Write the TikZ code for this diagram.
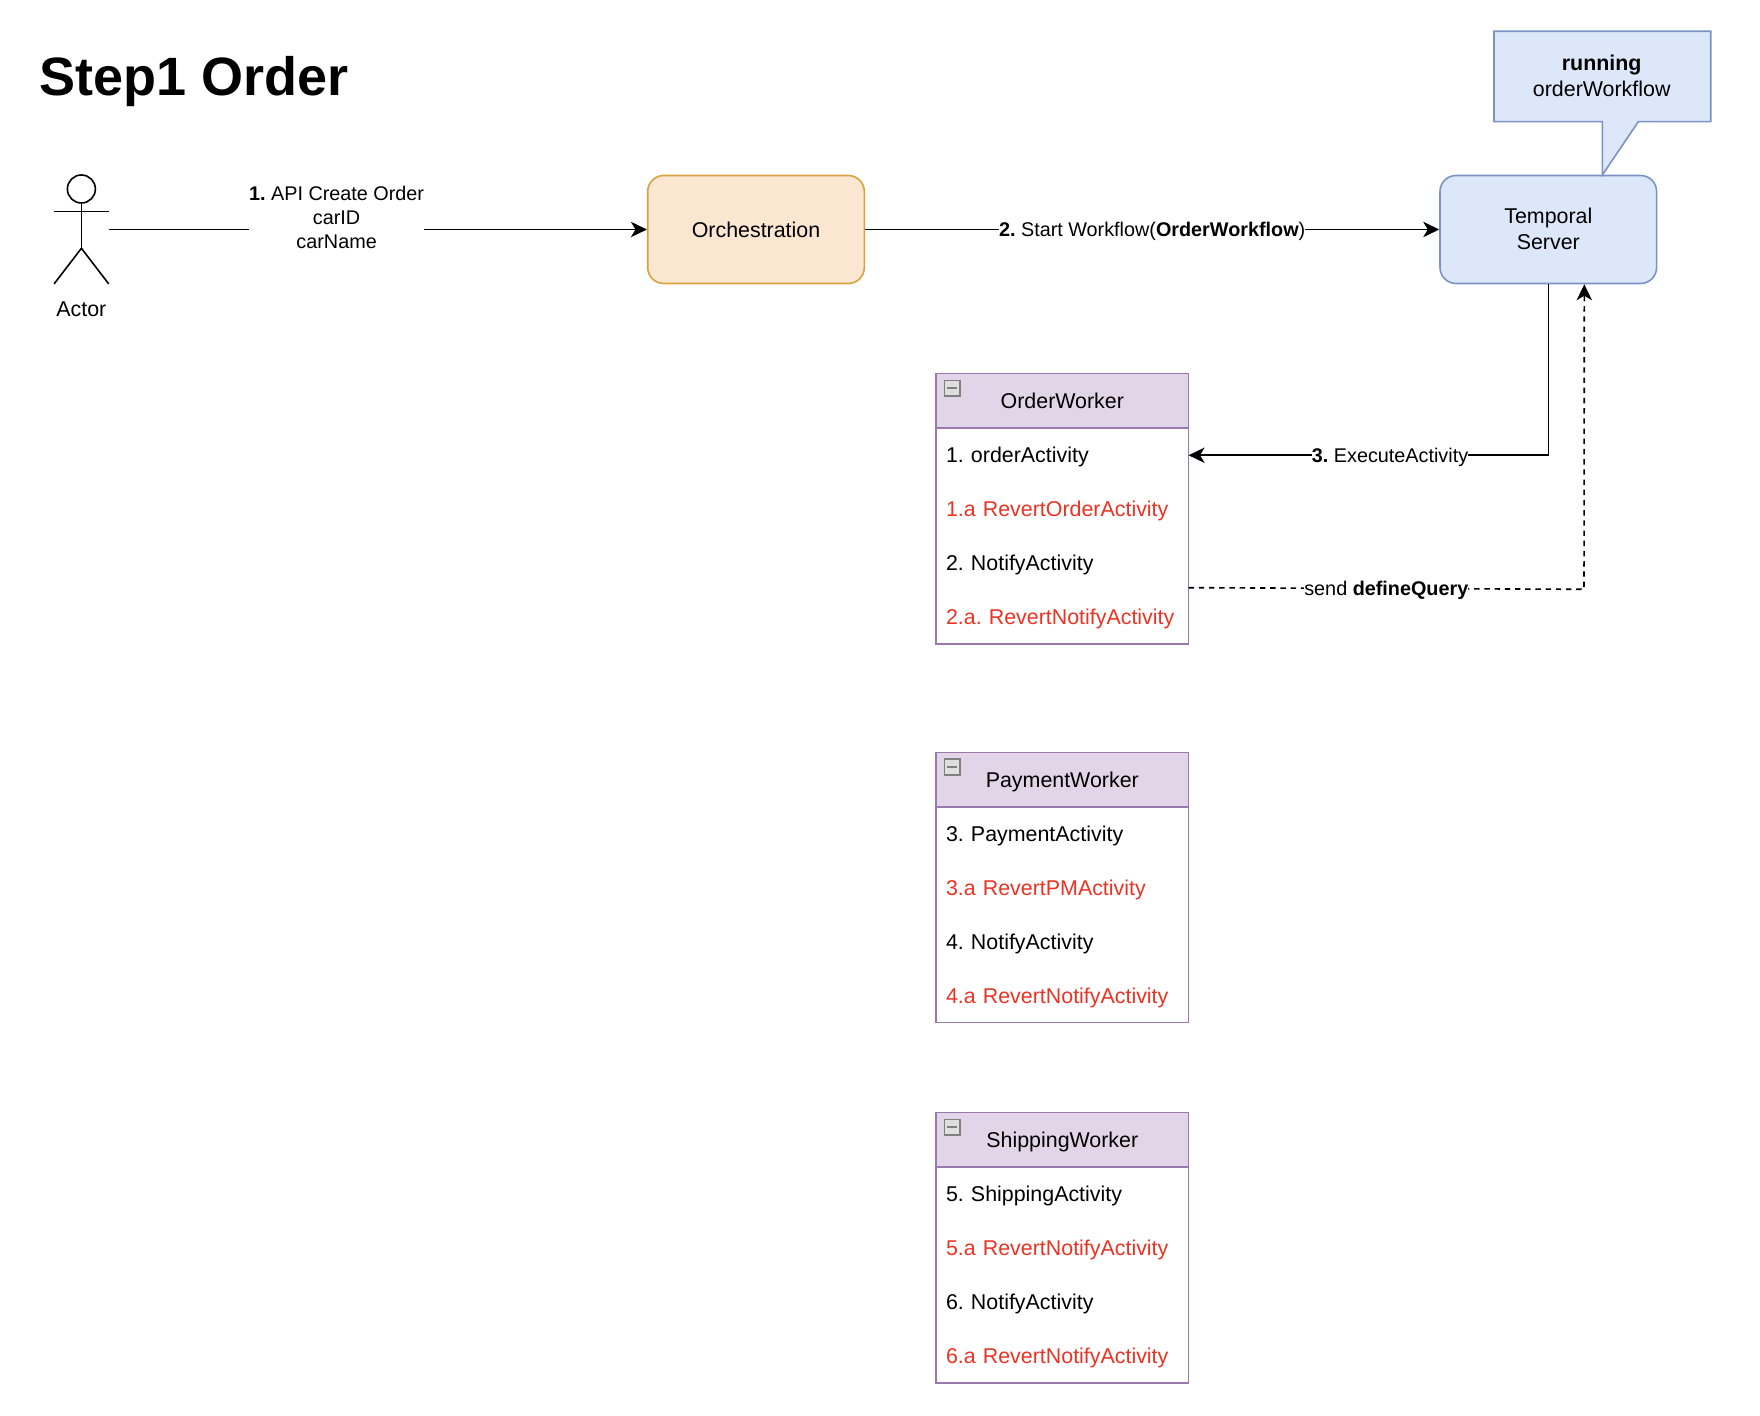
\documentclass[tikz,border=0pt]{standalone}
\usepackage{fontspec}
\setmainfont{Liberation Sans}
\usetikzlibrary{arrows.meta,positioning}
\frenchspacing

\definecolor{orchfill}{HTML}{FAE6D1}
\definecolor{orchline}{HTML}{D9A23F}
\definecolor{serverfill}{HTML}{DCE8FA}
\definecolor{serverline}{HTML}{7A93C2}
\definecolor{workerfill}{HTML}{E1D5E7}
\definecolor{workerline}{HTML}{9A7AAE}
\definecolor{revertred}{HTML}{EA3323}

\tikzset{
	base/.style={font=\fontsize{10.7}{13}\selectfont},
	flowarrow/.style={line width=0.8pt,-{Stealth[length=8pt,width=7.7pt,inset=2.3pt]}},
	flowlabel/.style={font=\fontsize{9.9}{12}\selectfont,fill=white,inner sep=0pt,align=center},
	onelinelabel/.style={flowlabel,text height=7pt,text depth=2pt,yshift=-1pt},
	orchbox/.style={base,draw=orchline,fill=orchfill,line width=0.8pt,rounded corners=8pt,minimum width=108.3pt,minimum height=54pt},
	serverbox/.style={base,draw=serverline,fill=serverfill,line width=0.8pt,rounded corners=8pt,minimum width=108.3pt,minimum height=54pt,align=center,text depth=0.8pt},
	workerhead/.style={base,draw=workerline,fill=workerfill,line width=0.8pt,outer sep=0pt,minimum width=126.3pt,minimum height=27.3pt,text height=8.5pt,text depth=0.5pt},
	workerrow/.style={base,anchor=north west,outer sep=0pt,minimum height=26.95pt,text width=116.3pt,inner xsep=5pt,inner ysep=0pt,align=left,text height=8.2pt,text depth=0.8pt},
	workerbody/.style={draw=workerline,line width=0.8pt,outer sep=0pt,minimum width=126.3pt,minimum height=107.8pt,inner sep=0pt},
	minusbox/.style={draw=gray,fill=gray!25,line width=0.8pt,minimum size=7.8pt,inner sep=0pt,
		path picture={\draw[line width=1.2pt] ([xshift=1.5pt]path picture bounding box.west) -- ([xshift=-1.5pt]path picture bounding box.east);}},
	stickman/.style={line width=0.8pt}
}

\begin{document}
\begin{tikzpicture}[x=0.5pt,y=-0.5pt]
	\useasboundingbox (0,0) rectangle (1760,1416);

	% Title
	\node[anchor=base west,inner sep=0pt,font=\fontsize{27}{32}\selectfont\bfseries] (title) at (39,96) {Step1 Order};

	% Actor
	\node[minimum width=26.9pt,minimum height=54pt,inner sep=0pt] (actor) at (81.4,229.5) {};
	\draw[stickman] (81.4,189) circle (7pt);
	\draw[stickman] (81.4,203) -- (81.4,248.3);
	\draw[stickman] (actor.west |- 0,211.7) -- (actor.east |- 0,211.7);
	\draw[stickman] (actor.south west) -- (81.4,248.3) -- (actor.south east);
	\node[base,below=8.5pt of actor,inner sep=0pt] (actorlabel) {Actor};

	% Orchestration and server
	\node[orchbox] (orchestration) at (756,229.5) {Orchestration};
	\node[serverbox] (temporal) at (1548.3,229.5) {Temporal\\Server};

	% Callout
	\draw[draw=serverline,fill=serverfill,line width=0.8pt] (1494,31.3) -- (1710.7,31.3) -- (1710.7,121.7) -- (1638.3,121.7) -- (1602.3,175) -- (1602.3,121.7) -- (1494,121.7) -- cycle;
	\node[base,align=center,inner sep=0pt] (callout) at (1601.7,76) {\textbf{running}\\orderWorkflow};

	% OrderWorker
	\node[workerhead] (orderhead) at (1062.3,401) {OrderWorker};
	\node[workerbody,below=0pt of orderhead] (orderbody) {};
	\node[minusbox] (ordertoggle) at (952.2,388.2) {};
	\node[workerrow] (orderrow1) at (orderbody.north west) {1. orderActivity};
	\node[workerrow,below=0pt of orderrow1,text=revertred] (orderrow2) {1.a RevertOrderActivity};
	\node[workerrow,below=0pt of orderrow2] (orderrow3) {2. NotifyActivity};
	\node[workerrow,below=0pt of orderrow3,text=revertred] (orderrow4) {2.a. RevertNotifyActivity};

	% PaymentWorker
	\node[workerhead] (paymenthead) at (1062.3,779.7) {PaymentWorker};
	\node[workerbody,below=0pt of paymenthead] (paymentbody) {};
	\node[minusbox] (paymenttoggle) at (952.2,766.9) {};
	\node[workerrow] (paymentrow1) at (paymentbody.north west) {3. PaymentActivity};
	\node[workerrow,below=0pt of paymentrow1,text=revertred] (paymentrow2) {3.a RevertPMActivity};
	\node[workerrow,below=0pt of paymentrow2] (paymentrow3) {4. NotifyActivity};
	\node[workerrow,below=0pt of paymentrow3,text=revertred] (paymentrow4) {4.a RevertNotifyActivity};

	% ShippingWorker
	\node[workerhead] (shippinghead) at (1062.3,1139.9) {ShippingWorker};
	\node[workerbody,below=0pt of shippinghead] (shippingbody) {};
	\node[minusbox] (shippingtoggle) at (952.2,1127.1) {};
	\node[workerrow] (shippingrow1) at (shippingbody.north west) {5. ShippingActivity};
	\node[workerrow,below=0pt of shippingrow1,text=revertred] (shippingrow2) {5.a RevertNotifyActivity};
	\node[workerrow,below=0pt of shippingrow2] (shippingrow3) {6. NotifyActivity};
	\node[workerrow,below=0pt of shippingrow3,text=revertred] (shippingrow4) {6.a RevertNotifyActivity};

	% Arrows
	\draw[flowarrow] (actor.east) -- node[flowlabel,pos=0.4235,yshift=6pt] (createlabel) {\textbf{1.} API Create Order\\carID\\carName} (orchestration.west);
	\draw[flowarrow] (orchestration.east) -- node[onelinelabel] (startlabel) {\textbf{2.} Start Workflow(\textbf{OrderWorkflow})} (temporal.west);
	\draw[flowarrow] (temporal.south) |- node[onelinelabel,pos=0.72] (executelabel) {\textbf{3.} ExecuteActivity} (orderrow1.east);
	\coordinate (querystart) at (orderbody.east |- 0,587.7);
	\coordinate (querycorner) at (1584,589.3);
	\draw[flowarrow,dash pattern=on 2.7pt off 2.4pt] (querystart) -- node[onelinelabel] (querylabel) {send \textbf{defineQuery}} (querycorner) -- ([xshift=18pt]temporal.south);
\end{tikzpicture}
\end{document}
